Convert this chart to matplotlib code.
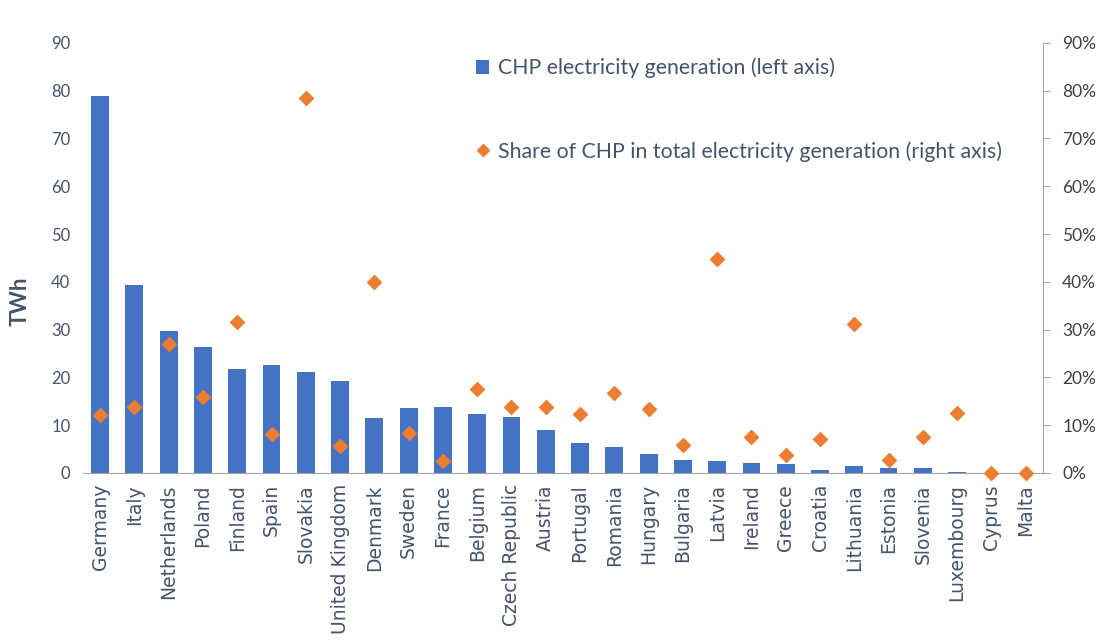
import matplotlib
matplotlib.use("Agg")
import matplotlib.pyplot as plt
from matplotlib.ticker import FuncFormatter, MultipleLocator
from matplotlib.lines import Line2D
from matplotlib.patches import Patch

countries = ["Germany", "Italy", "Netherlands", "Poland", "Finland", "Spain", "Slovakia",
             "United Kingdom", "Denmark", "Sweden", "France", "Belgium", "Czech Republic",
             "Austria", "Portugal", "Romania", "Hungary", "Bulgaria", "Latvia", "Ireland",
             "Greece", "Croatia", "Lithuania", "Estonia", "Slovenia", "Luxembourg", "Cyprus", "Malta"]
chp_twh = [78.9, 39.3, 29.7, 26.4, 21.8, 22.6, 21.2, 19.3, 11.5, 13.6, 13.9, 12.4, 11.8,
           8.9, 6.3, 5.5, 4.0, 2.8, 2.4, 2.0, 1.9, 0.7, 1.4, 1.0, 1.0, 0.3, 0.0, 0.0]
chp_share = [12.2, 13.9, 27.0, 15.9, 31.6, 8.1, 78.5, 5.6, 40.0, 8.4, 2.4, 17.6, 13.9,
             13.7, 12.4, 16.8, 13.4, 5.9, 44.8, 7.5, 3.8, 7.1, 31.2, 2.8, 7.6, 12.6, 0.0, 0.0]

BAR_C = "#4472C4"
DIA_C = "#ED7D31"
LBL_C = "#44546A"

fig = plt.figure(figsize=(11.02, 6.40), dpi=100)
ax = fig.add_axes([0.0753, 0.261, 0.871, 0.672])
ax2 = ax.twinx()

x = list(range(len(countries)))
ax.bar(x, chp_twh, width=0.52, color=BAR_C, zorder=2)
ax2.scatter(x, chp_share, marker="D", s=50, color=DIA_C, zorder=3, clip_on=False)

ax.set_xlim(-0.5, len(countries) - 0.5)
ax.set_ylim(0, 90)
ax.yaxis.set_major_locator(MultipleLocator(10))
ax2.set_ylim(0, 90)
ax2.yaxis.set_major_locator(MultipleLocator(10))
ax2.yaxis.set_major_formatter(FuncFormatter(lambda v, p: f"{int(v)}%"))

for s in ["top", "left", "right"]:
    ax.spines[s].set_visible(False)
for s in ["top", "left", "bottom"]:
    ax2.spines[s].set_visible(False)
ax.spines["bottom"].set_color("#A6A6A6")
ax2.spines["right"].set_color("#A6A6A6")

ax.set_xticks(x)
ax.set_xticklabels(countries, rotation=90, fontsize=13.5, color=LBL_C, family="DejaVu Sans")
ax.tick_params(axis="x", length=0, pad=8)
ax.tick_params(axis="y", length=0, labelsize=12, labelcolor=LBL_C, pad=9)
for t in ax.get_yticklabels():
    t.set_family("Lato")
ax2.tick_params(axis="y", length=5, color="#A6A6A6", labelsize=12.5, labelcolor="#404040", pad=9)
for t in ax2.get_yticklabels():
    t.set_family("Lato")

fig.text(20 / 1102, 1 - 301 / 640, "TWh", rotation=90, ha="center", va="center",
         fontsize=16, fontweight="bold", color=LBL_C, family="Lato")

handles = [Patch(facecolor=BAR_C, edgecolor="none"),
           Line2D([], [], marker="D", linestyle="none", color=DIA_C, markersize=6)]
labels = ["CHP electricity generation (left axis)",
          "Share of CHP in total electricity generation (right axis)"]
leg = ax.legend(handles, labels, loc="upper left", bbox_to_anchor=(0.39, 1.01), frameon=False,
                prop={"family": "Lato", "size": 15.3}, labelspacing=2.95,
                handlelength=0.6, handletextpad=0.4, handleheight=0.6)
for t in leg.get_texts():
    t.set_color(LBL_C)

fig.savefig("out.png", dpi=100)
